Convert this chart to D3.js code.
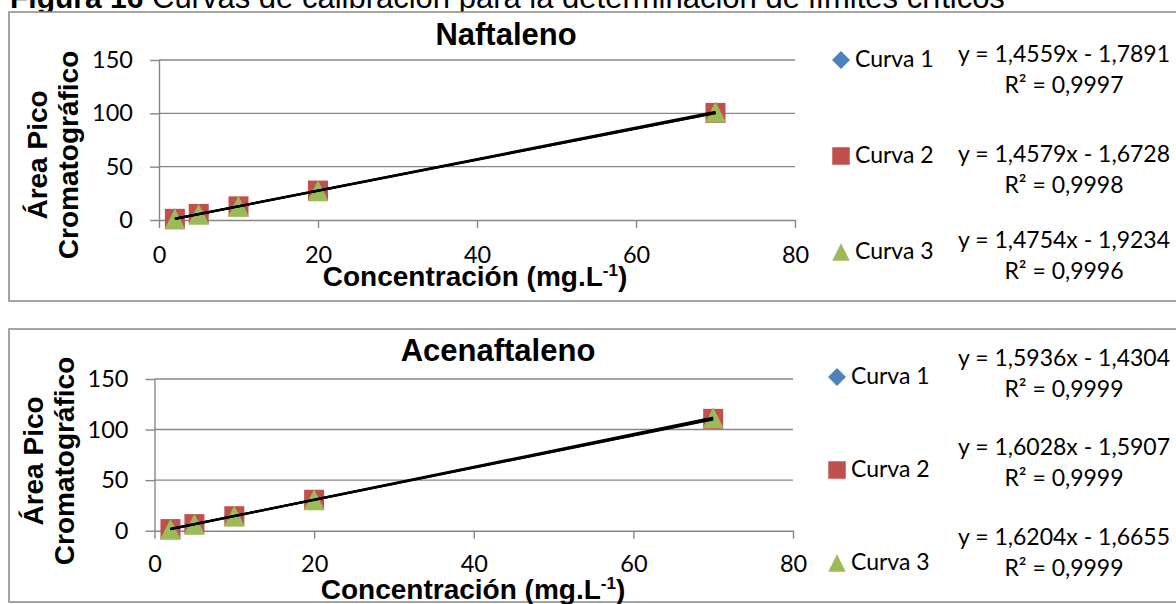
<!DOCTYPE html>
<html lang="es">
<head>
<meta charset="utf-8">
<title>Curvas de calibración</title>
<script src="https://cdn.jsdelivr.net/npm/d3@7"></script>
<style>
  body { margin: 0; background: white; }
  svg { display: block; background: white; }
  .num { font-family: Lato, "Open Sans", sans-serif; fill: #000; }
  .bold { font-family: "Liberation Sans", Arial, sans-serif; font-weight: bold; fill: #000; }
</style>
</head>
<body>
<script>
// data
var concentracion = [2, 5, 10, 20, 70];
var curvas = ["Curva 1", "Curva 2", "Curva 3"];

var naftalenoC1 = [1.3, 5.3, 12.9, 27.0, 100.1];
var naftalenoC2 = [1.1, 5.7, 12.8, 27.6, 100.4];
var naftalenoC3 = [1.0, 5.5, 12.9, 27.5, 101.3];
var naftalenoPend = [1.4559, 1.4579, 1.4754];
var naftalenoInter = [-1.7891, -1.6728, -1.9234];
var naftalenoEq = ["y = 1,4559x - 1,7891", "y = 1,4579x - 1,6728", "y = 1,4754x - 1,9234"];
var naftalenoR2 = ["R² = 0,9997", "R² = 0,9998", "R² = 0,9996"];

var acenaftC1 = [1.8, 6.4, 14.6, 30.4, 110.1];
var acenaftC2 = [1.6, 6.5, 14.3, 30.6, 110.6];
var acenaftC3 = [1.5, 6.5, 14.6, 30.7, 111.8];
var acenaftPend = [1.5936, 1.6028, 1.6204];
var acenaftInter = [-1.4304, -1.5907, -1.6655];
var acenaftEq = ["y = 1,5936x - 1,4304", "y = 1,6028x - 1,5907", "y = 1,6204x - 1,6655"];
var acenaftR2 = ["R² = 0,9999", "R² = 0,9999", "R² = 0,9999"];

var xTicks = [0, 20, 40, 60, 80];
var yTicks = [0, 50, 100, 150];

var colores = ["#4F81BD", "#C0504D", "#9BBB59"];
var grid = "#868686";

// Excel-like markers: width = height = sqrt(size)
var rombo = { draw: function(c, size) {
  var r = Math.sqrt(size) / 2;
  c.moveTo(0, -r); c.lineTo(r, 0); c.lineTo(0, r); c.lineTo(-r, 0); c.closePath();
} };
var triangulo = { draw: function(c, size) {
  var r = Math.sqrt(size) / 2;
  c.moveTo(0, -r); c.lineTo(r, r); c.lineTo(-r, r); c.closePath();
} };
var simbolos = [rombo, d3.symbolSquare, triangulo];

var svg = d3.select("body").append("svg")
  .attr("width", 1176)
  .attr("height", 604);

// caption (mostly cut off at the top)
var cap = svg.append("text")
  .attr("x", 10).attr("y", 8)
  .style("font-family", "'Liberation Sans', Arial, sans-serif")
  .style("font-size", "30px");
cap.append("tspan").attr("font-weight", "bold").text("Figura 16");
cap.append("tspan").style("font-size", "31px").text(" Curvas de calibración para la determinación de límites críticos");

function drawChart(o) {
  var g = svg.append("g");

  g.append("rect")
    .attr("x", o.box[0]).attr("y", o.box[1])
    .attr("width", o.box[2]).attr("height", o.box[3])
    .attr("fill", "white").attr("stroke", grid).attr("stroke-width", 1.5);

  var x = d3.scaleLinear().domain([0, 80]).range([o.left, o.right]);
  var y = d3.scaleLinear().domain([0, 150]).range([o.bottom, o.top]);

  g.selectAll("line.grid").data(yTicks.slice(1)).join("line")
    .attr("class", "grid")
    .attr("x1", x(0)).attr("x2", x(80))
    .attr("y1", function(d) { return y(d); })
    .attr("y2", function(d) { return y(d); })
    .attr("stroke", grid).attr("stroke-width", 1.4);

  var ay = g.append("g")
    .attr("transform", "translate(" + x(0) + ",0)")
    .call(d3.axisLeft(y).tickValues(yTicks).tickSize(9).tickSizeOuter(0).tickPadding(17));
  var ax = g.append("g")
    .attr("transform", "translate(0," + y(0) + ")")
    .call(d3.axisBottom(x).tickValues(xTicks).tickSize(8).tickSizeOuter(0).tickPadding(o.xPad));
  [ay, ax].forEach(function(a) {
    a.attr("font-family", null).attr("font-size", null);
    a.selectAll("path.domain").attr("stroke", grid).attr("stroke-width", 1.4);
    a.selectAll(".tick line").attr("stroke", grid).attr("stroke-width", 1.4);
    a.selectAll(".tick text").attr("class", "num").style("font-size", "23.5px");
  });

  // points
  o.series.forEach(function(vals, i) {
    g.append("g").selectAll("path").data(vals).join("path")
      .attr("d", d3.symbol().type(simbolos[i]).size(i === 2 ? 441 : 400))
      .attr("transform", function(d, j) {
        return "translate(" + x(concentracion[j]) + "," + y(d) + ")";
      })
      .attr("fill", colores[i]);
  });

  // trend lines
  var x0 = d3.min(concentracion), x1 = d3.max(concentracion);
  o.pend.forEach(function(m, i) {
    g.append("line")
      .attr("x1", x(x0)).attr("y1", y(m * x0 + o.inter[i]))
      .attr("x2", x(x1)).attr("y2", y(m * x1 + o.inter[i]))
      .attr("stroke", "#000").attr("stroke-width", 2.2);
  });

  g.append("text").attr("class", "bold")
    .attr("x", o.titleX).attr("y", o.titleY)
    .attr("text-anchor", "middle").style("font-size", "31px")
    .text(o.title);

  ["Área Pico", "Cromatográfico"].forEach(function(t, i) {
    g.append("text").attr("class", "bold")
      .attr("transform", "translate(" + o.yTitleX[i] + "," + o.yTitleY + ") rotate(-90)")
      .attr("text-anchor", "middle").style("font-size", "28px")
      .text(t);
  });

  var xt = g.append("text").attr("class", "bold")
    .attr("x", o.xTitleX).attr("y", o.xTitleY)
    .attr("text-anchor", "middle").style("font-size", "28px");
  xt.append("tspan").text("Concentración (mg.L");
  xt.append("tspan").attr("dy", -10).style("font-size", "17px").text("-1");
  xt.append("tspan").attr("dy", 10).text(")");

  // legend
  curvas.forEach(function(c, i) {
    var ly = o.legY[i];
    g.append("path")
      .attr("d", d3.symbol().type(simbolos[i]).size(i === 0 ? 324 : 306))
      .attr("transform", "translate(" + o.legX + "," + ly + ")")
      .attr("fill", colores[i]);
    g.append("text").attr("class", "num")
      .attr("x", o.legX + 14).attr("y", ly + 7)
      .style("font-size", "23px").text(c);
    g.append("text").attr("class", "num")
      .attr("x", 1064).attr("y", o.eqY[i]).attr("text-anchor", "middle")
      .style("font-size", "23px").text(o.eq[i]);
    g.append("text").attr("class", "num")
      .attr("x", 1064).attr("y", o.eqY[i] + 31).attr("text-anchor", "middle")
      .style("font-size", "23px").text(o.r2[i]);
  });
}

drawChart({
  box: [9, 12, 1180, 289],
  left: 159, right: 795, top: 60, bottom: 220, xPad: 18,
  series: [naftalenoC1, naftalenoC2, naftalenoC3],
  pend: naftalenoPend, inter: naftalenoInter, eq: naftalenoEq, r2: naftalenoR2,
  title: "Naftaleno", titleX: 506, titleY: 45,
  yTitleX: [47, 78], yTitleY: 155,
  xTitleX: 475, xTitleY: 286,
  legX: 841, legY: [60, 156, 252],
  eqY: [62, 162, 248]
});

drawChart({
  box: [9, 329, 1180, 273],
  left: 154.5, right: 793, top: 379, bottom: 530.7, xPad: 17,
  series: [acenaftC1, acenaftC2, acenaftC3],
  pend: acenaftPend, inter: acenaftInter, eq: acenaftEq, r2: acenaftR2,
  title: "Acenaftaleno", titleX: 498, titleY: 361,
  yTitleX: [43, 74], yTitleY: 461,
  xTitleX: 473, xTitleY: 599,
  legX: 837, legY: [377, 470, 563],
  eqY: [366, 455, 545]
});
</script>
</body>
</html>
